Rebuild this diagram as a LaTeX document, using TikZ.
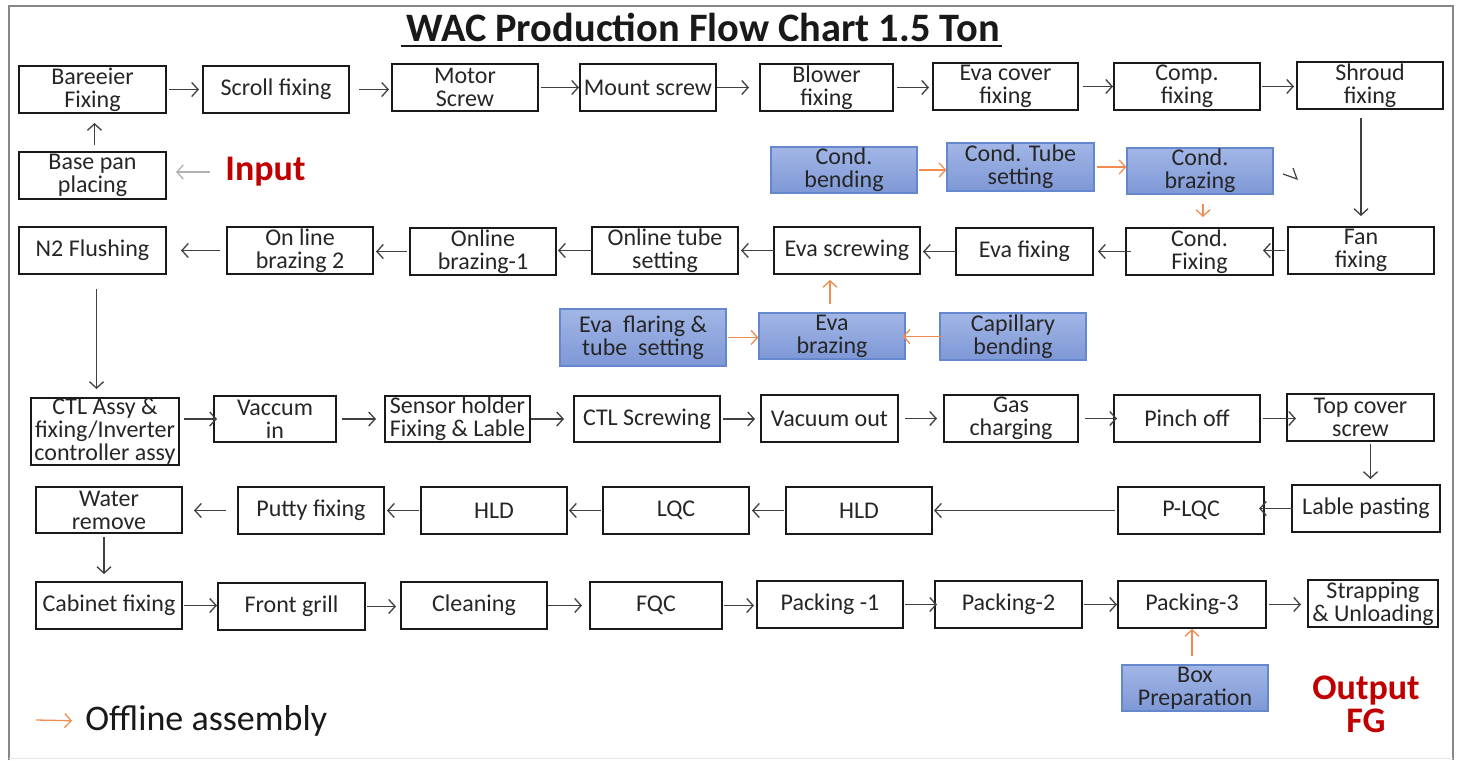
\documentclass[tikz,border=0pt]{standalone}
\usepackage{fontspec}
\setmainfont{Carlito}
\usetikzlibrary{arrows.meta}
\definecolor{bfill1}{RGB}{162,182,230}
\definecolor{bfill2}{RGB}{126,152,214}
\definecolor{bdraw}{RGB}{100,135,205}
\definecolor{orng}{RGB}{240,140,80}
\definecolor{dred}{RGB}{192,0,0}
\definecolor{frame}{RGB}{135,135,135}
\tikzset{
  box/.style={draw=black!90, line width=1pt, inner sep=0pt, align=center,
    font=\fontsize{12}{11.5}\selectfont, text=black!85},
  bbox/.style={box, draw=bdraw, line width=0.6pt, top color=bfill1, bottom color=bfill2},
  ark/.style={draw=black!75, line width=0.65pt, -{Straight Barb[length=3.2pt,width=7pt]}},
  oar/.style={ark, draw=orng},
  gar/.style={ark, draw=black!30},
  bigred/.style={text=dred, font=\fontsize{18}{16.5}\selectfont\bfseries, inner sep=0pt, align=center}
}
\newcommand\bx[7][box]{\node[#1, minimum width={(#5-#3)*0.5pt}, minimum height={(#6-#4)*0.5pt}] (#2) at ({(#3+#5)/2},{(#4+#6)/2}) {#7};}
\begin{document}
\begin{tikzpicture}[x=0.5pt,y=-0.5pt]
\useasboundingbox (0,0) rectangle (1460,760);
% frame
\draw[frame, line width=1pt] (9,760) -- (9,6) -- (1453,6) -- (1453,760);
\draw[black!10, line width=0.5pt] (9,758) -- (1453,758);
% title
\node[inner sep=0pt, font=\fontsize{20.2}{22}\selectfont\bfseries, text=black!90] (title) at (703,27) {WAC Production Flow Chart 1.5 Ton};
\draw[black!90, line width=0.9pt] ([xshift=-2.5pt,yshift=-2pt]title.south west) -- ([xshift=1pt,yshift=-2pt]title.south east);
% row 1
\bx{bar}{19}{66}{166}{113}{Bareeier\\Fixing}
\bx{scr}{203}{66}{349}{113}{Scroll fixing}
\bx{mot}{392}{64}{538}{111}{Motor\\Screw}
\bx{mnt}{580}{64}{716}{111}{Mount screw}
\bx{blw}{760}{64}{893}{111}{Blower\\fixing}
\bx{evc}{933}{63}{1078}{110}{Eva cover\\fixing}
\bx{cmp}{1114}{63}{1260}{110}{Comp.\\fixing}
\bx{shr}{1297}{62}{1443}{109}{Shroud\\fixing}
% row 2
\bx{base}{19}{152}{166}{199}{Base pan\\placing}
\node[bigred, anchor=west] (input) at (225,172) {Input};
\bx[bbox]{cbd}{771}{147}{917}{193}{Cond.\\bending}
\bx[bbox]{ctb}{947}{143}{1094}{191}{Cond. Tube\\setting}
\bx[bbox]{cbz}{1127}{148}{1273}{194}{Cond.\\brazing}
\draw[black!75, line width=0.6pt] (1293,168) -- (1297,179) -- (1283,174);
% row 3
\bx{n2}{19}{227}{166}{274}{N2 Flushing}
\bx{ob2}{227}{227}{373}{274}{On line\\brazing 2}
\bx{ob1}{410}{228}{556}{275}{Online\\brazing-1}
\bx{ots}{592}{227}{738}{274}{Online tube\\setting}
\bx{evs}{774}{227}{920}{274}{Eva screwing}
\bx{evf}{956}{228}{1093}{275}{Eva fixing}
\bx{cfix}{1126}{228}{1273}{275}{Cond.\\Fixing}
\bx{fan}{1288}{227}{1434}{274}{Fan\\fixing}
% row 4
\bx[bbox]{efl}{560}{309}{726}{366}{Eva\ \ flaring \&\\tube\ \ setting}
\bx[bbox]{ebz}{759}{313}{905}{359}{Eva\\brazing}
\bx[bbox]{cap}{940}{313}{1086}{360}{Capillary\\bending}
% row 5
\bx{ctl}{31}{398}{179}{465}{CTL Assy \&\\fixing/Inverter\\controller assy}
\bx{vac}{214}{396}{336}{442}{Vaccum\\in}
\bx{sen}{385}{396}{530}{442}{Sensor holder\\Fixing \& Lable}
\bx{cts}{574}{396}{720}{442}{CTL Screwing}
\bx{vout}{761}{395}{898}{442}{Vacuum out}
\bx{gas}{944}{395}{1078}{442}{Gas\\charging}
\bx{pin}{1114}{395}{1260}{442}{Pinch off}
\bx{top}{1287}{394}{1434}{441}{Top cover\\screw}
% row 6
\bx{wat}{36}{487}{182}{533}{Water\\remove}
\bx{put}{238}{487}{384}{534}{Putty fixing}
\bx{hlda}{421}{487}{567}{534}{HLD}
\bx{lqc}{603}{487}{749}{534}{LQC}
\bx{hldb}{786}{487}{932}{534}{HLD}
\bx{plqc}{1118}{487}{1264}{534}{P-LQC}
\bx{lab}{1292}{485}{1440}{532}{Lable pasting}
% row 7
\bx{cab}{36}{582}{182}{629}{Cabinet fixing}
\bx{fg}{218}{583}{365}{630}{Front grill}
\bx{cln}{401}{582}{547}{629}{Cleaning}
\bx{fqc}{590}{582}{722}{629}{FQC}
\bx{pa}{757}{581}{903}{628}{Packing -1}
\bx{pb}{935}{581}{1082}{628}{Packing-2}
\bx{pc}{1118}{581}{1266}{628}{Packing-3}
\bx{str}{1308}{580}{1438}{627}{Strapping\\\& Unloading}
\bx[bbox]{boxp}{1122}{665}{1268}{711}{Box\\Preparation}
\node[bigred] (outp) at (1366,704) {Output\\FG};
% legend
\coordinate (lga) at (36,720);
\node[inner sep=0pt, anchor=west, font=\fontsize{18}{20}\selectfont, text=black!90] (lgt) at (85,721) {Offline assembly};
\draw[oar, shorten >=6.5pt] (lga) -- (lgt.west);
% arrows row 1
\draw[ark, shorten <=1pt, shorten >=1.5pt] (bar.east) -- (bar.east -| scr.west);
\draw[ark, shorten <=4.5pt, shorten >=1pt] (scr.east) -- (scr.east -| mot.west);
\draw[ark, shorten <=1pt] (mot.east) -- (mot.east -| mnt.west);
\draw[ark, shorten >=5pt] (mnt.east) -- (mnt.east -| blw.west);
\draw[ark, shorten <=1.5pt, shorten >=1.5pt] (blw.east) -- (blw.east -| evc.west);
\draw[ark, shorten <=2pt] (evc.east) -- (evc.east -| cmp.west);
\draw[ark, shorten <=0.5pt, shorten >=1pt] (cmp.east) -- (cmp.east -| shr.west);
\draw[ark, shorten <=4pt, shorten >=5pt] (fan.north |- shr.south) -- (fan.north);
\draw[ark, shorten <=3pt, shorten >=4.5pt] ([xshift=1pt]base.north) -- ([xshift=1pt]bar.south);
\draw[gar, shorten <=7.5pt, shorten >=4.5pt] (input.west) -- (input.west -| base.east);
% row 2
\draw[oar, shorten <=0.5pt] (cbd.east) -- (cbd.east -| ctb.west);
\draw[oar, shorten <=1pt] (ctb.east) -- (ctb.east -| cbz.west);
\draw[oar, shorten <=4.5pt, shorten >=5pt] ([xshift=1.5pt]cbz.south) -- ([xshift=1.5pt]cbz.south |- cfix.north);
% row 3
\draw[ark, shorten <=1pt, shorten >=-5.5pt] (fan.west) -- (fan.west -| cfix.east);
\draw[ark, shorten <=-3pt, shorten >=2pt] (cfix.west) -- (cfix.west -| evf.east);
\draw[ark, shorten <=-0.5pt, shorten >=1pt] (evf.west) -- (evf.west -| evs.east);
\draw[ark, shorten <=-0.5pt, shorten >=1pt] (evs.west) -- (evs.west -| ots.east);
\draw[ark, shorten <=-0.5pt, shorten >=0.5pt] (ots.west) -- (ots.west -| ob1.east);
\draw[ark, shorten <=1pt, shorten >=1pt] (ob1.west) -- (ob1.west -| ob2.east);
\draw[ark, shorten <=3pt, shorten >=7pt] (ob2.west) -- (ob2.west -| n2.east);
\draw[ark, shorten <=7pt, shorten >=4pt] ([xshift=2pt]n2.south) -- ([xshift=2pt]n2.south |- ctl.north);
% row 4
\draw[oar, shorten <=0.5pt] (efl.east) -- (efl.east -| ebz.west);
\draw[oar, shorten <=-1.5pt, shorten >=-1.5pt] (cap.west) -- (cap.west -| ebz.east);
\draw[oar, shorten <=4pt, shorten >=2.5pt] ([xshift=-1pt]ebz.north) -- ([xshift=-1pt]ebz.north |- evs.south);
% row 5
\draw[ark, shorten <=2pt, shorten >=-2pt] (ctl.east |- vac.east) -- (vac.west);
\draw[ark, shorten <=2.5pt, shorten >=4pt] (vac.east) -- (vac.east -| sen.west);
\draw[ark, shorten >=4.5pt] (sen.east) -- (sen.east -| cts.west);
\draw[ark, shorten <=1pt, shorten >=2.5pt] (cts.east) -- (cts.east -| vout.west);
\draw[ark, shorten <=3pt, shorten >=3pt] (vout.east) -- (vout.east -| gas.west);
\draw[ark, shorten <=3pt, shorten >=-2pt] (gas.east) -- (gas.east -| pin.west);
\draw[ark, shorten <=1pt, shorten >=-5pt] (pin.east) -- (pin.east -| top.west);
\draw[ark, shorten <=1pt, shorten >=2.5pt] ([xshift=5pt]top.south) -- ([xshift=5pt]top.south |- lab.north);
% row 6
\draw[ark, shorten <=-1pt, shorten >=-3pt] (lab.west) -- (lab.west -| plqc.east);
\draw[ark, shorten <=1pt, shorten >=0.5pt] (plqc.west) -- (plqc.west -| hldb.east);
\draw[ark, shorten <=0.5pt, shorten >=1pt] (hldb.west) -- (hldb.west -| lqc.east);
\draw[ark, shorten <=0.5pt, shorten >=0.5pt] (lqc.west) -- (lqc.west -| hlda.east);
\draw[ark, shorten <=0.5pt, shorten >=1pt] (hlda.west) -- (hlda.west -| put.east);
\draw[ark, shorten <=5.5pt, shorten >=5.5pt] (put.west) -- (put.west -| wat.east);
\draw[ark, shorten <=1.5pt, shorten >=3.5pt] ([xshift=-2.5pt]wat.south) -- ([xshift=-2.5pt]wat.south |- cab.north);
% row 7
\draw[ark, shorten <=0.5pt] (cab.east) -- (cab.east -| fg.west);
\draw[ark, shorten <=0.5pt, shorten >=2pt] (fg.east) -- (fg.east -| cln.west);
\draw[ark, shorten >=3.5pt] (cln.east) -- (cln.east -| fqc.west);
\draw[ark, shorten <=0.5pt, shorten >=1pt] (fqc.east) -- (fqc.east -| pa.west);
\draw[ark, shorten <=0.5pt, shorten >=-1.5pt] (pa.east) -- (pa.east -| pb.west);
\draw[ark, shorten <=0.5pt] (pb.east) -- (pb.east -| pc.west);
\draw[ark, shorten <=1pt, shorten >=3pt] (pc.east) -- (pc.east -| str.west);
\draw[oar, shorten <=4pt] ([xshift=-1.5pt]boxp.north) -- ([xshift=-1.5pt]boxp.north |- pc.south);
\end{tikzpicture}
\end{document}
